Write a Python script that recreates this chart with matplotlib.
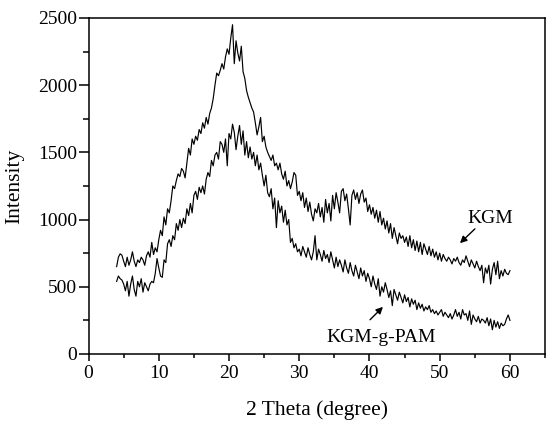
import numpy as np
import matplotlib
matplotlib.use('Agg')
import matplotlib.pyplot as plt
from matplotlib.ticker import MultipleLocator

# 2 theta grid, 0.25 degree step
two_theta = np.arange(4.0, 60.001, 0.25)

# KGM pattern
kgm = [
    650, 720, 745, 735, 690, 650, 720, 660, 700, 760, 690, 650,
    700, 680, 720, 700, 660, 730, 760, 720, 830, 740, 790, 760,
    850, 920, 880, 1020, 960, 1080, 1050, 1140, 1250, 1230, 1290, 1340,
    1320, 1380, 1360, 1310, 1420, 1530, 1480, 1600, 1560, 1620, 1590, 1670,
    1640, 1720, 1680, 1760, 1710, 1790, 1830, 1900, 2000, 2090, 2070, 2110,
    2160, 2120, 2210, 2270, 2230, 2350, 2450, 2160, 2330, 2240, 2180, 2290,
    2100, 2050, 1960, 1910, 1870, 1830, 1800, 1720, 1630, 1690, 1760, 1580,
    1620, 1540, 1500, 1470, 1440, 1480, 1400, 1420, 1370, 1420, 1340, 1300,
    1360, 1250, 1290, 1230, 1280, 1350, 1330, 1180, 1210, 1140, 1200, 1090,
    1160, 1060, 1130, 1040, 990, 1080, 1050, 1120, 1020, 1090, 980, 1150,
    1050, 1120, 990, 1180, 1080, 1200, 1130, 1050, 1210, 1230, 1140, 1190,
    1080, 960, 1180, 1220, 1150, 1200, 1120, 1190, 1220, 1130, 1160, 1060,
    1110, 1040, 1090, 1010, 1070, 980, 1060, 960, 1010, 930, 990, 900,
    970, 860, 940, 880, 820, 900, 860, 880, 830, 870, 800, 880,
    790, 850, 770, 840, 760, 830, 740, 820, 780, 740, 800, 730,
    780, 720, 760, 700, 750, 690, 740, 710, 690, 720, 700, 670,
    710, 690, 720, 680, 660, 700, 680, 730, 690, 650, 700, 670,
    640, 690, 650, 620, 660, 530, 640, 600, 660, 520, 630, 680,
    590, 690, 560, 620, 580, 630, 600, 590, 620,
]

# KGM-g-PAM pattern
kgm_pam = [
    540, 580, 560, 550, 520, 470, 540, 430, 520, 580, 480, 430,
    540, 500, 560, 460, 530, 500, 470, 520, 540, 530, 600, 710,
    640, 580, 570, 700, 680, 820, 850, 800, 880, 850, 970, 920,
    1000, 940, 1010, 970, 1080, 1030, 1120, 1050, 1180, 1210, 1150, 1240,
    1200, 1250, 1190, 1300, 1350, 1320, 1440, 1400, 1480, 1500, 1450, 1580,
    1560, 1500, 1600, 1400, 1640, 1600, 1710, 1650, 1520, 1620, 1700, 1560,
    1660, 1480, 1580, 1460, 1540, 1450, 1500, 1400, 1480, 1370, 1420, 1330,
    1250, 1330, 1200, 1170, 1230, 1080, 1160, 940, 1140, 1050, 1100, 980,
    1070, 960, 1000, 830, 860, 790, 820, 760, 780, 730, 800, 760,
    720, 790, 740, 700, 760, 880, 700, 780, 740, 690, 770, 710,
    740, 680, 760, 700, 640, 720, 650, 700, 660, 610, 700, 640,
    600, 680, 620, 580, 660, 610, 560, 640, 580, 620, 540, 600,
    560, 500, 580, 520, 480, 560, 430, 500, 460, 530, 480, 420,
    470, 360, 480, 440, 400, 460, 420, 380, 440, 390, 420, 350,
    410, 370, 400, 330, 380, 340, 370, 320, 350, 330, 360, 310,
    330, 300, 320, 290, 310, 330, 280, 310, 290, 270, 300, 260,
    290, 330, 280, 310, 260, 330, 290, 300, 250, 320, 220, 290,
    260, 240, 280, 230, 260, 250, 230, 270, 210, 260, 180, 250,
    200, 240, 190, 230, 210, 220, 260, 290, 250,
]

plt.rcParams['font.family'] = ['Liberation Serif', 'DejaVu Serif']

fig = plt.figure(figsize=(5.5, 4.28), dpi=100)
ax = fig.add_axes([0.161, 0.173, 0.830, 0.785])

ax.plot(two_theta, kgm, color='black', lw=0.85)
ax.plot(two_theta, kgm_pam, color='black', lw=0.85)

ax.set_xlim(0, 65)
ax.set_ylim(0, 2500)
ax.xaxis.set_major_locator(MultipleLocator(10))
ax.xaxis.set_minor_locator(MultipleLocator(5))
ax.yaxis.set_major_locator(MultipleLocator(500))
ax.yaxis.set_minor_locator(MultipleLocator(250))
ax.tick_params(which='both', direction='out', width=1.1, labelsize=14,
               top=False, right=False)
ax.tick_params(axis='y', which='major', length=7, pad=1)
ax.tick_params(axis='y', which='minor', length=4)
ax.tick_params(axis='x', which='major', length=5, pad=3)
ax.tick_params(axis='x', which='minor', length=3)
for s in ax.spines.values():
    s.set_linewidth(1.1)

ax.set_xlabel('2 Theta (degree)', fontsize=15.5, labelpad=13)
ax.set_ylabel('Intensity', fontsize=15.5, labelpad=10)

# curve labels with arrows
ax.annotate('', xy=(52.6, 810), xytext=(55.3, 945),
            arrowprops=dict(arrowstyle='-|>', color='black', lw=1.0,
                            mutation_scale=10))
ax.text(57.2, 1010, 'KGM', fontsize=14, ha='center', va='center')
ax.annotate('', xy=(42.2, 365), xytext=(39.8, 240),
            arrowprops=dict(arrowstyle='-|>', color='black', lw=1.0,
                            mutation_scale=10))
ax.text(41.7, 124, 'KGM-g-PAM', fontsize=14, ha='center', va='center')

fig.savefig('out.png', dpi=100)
